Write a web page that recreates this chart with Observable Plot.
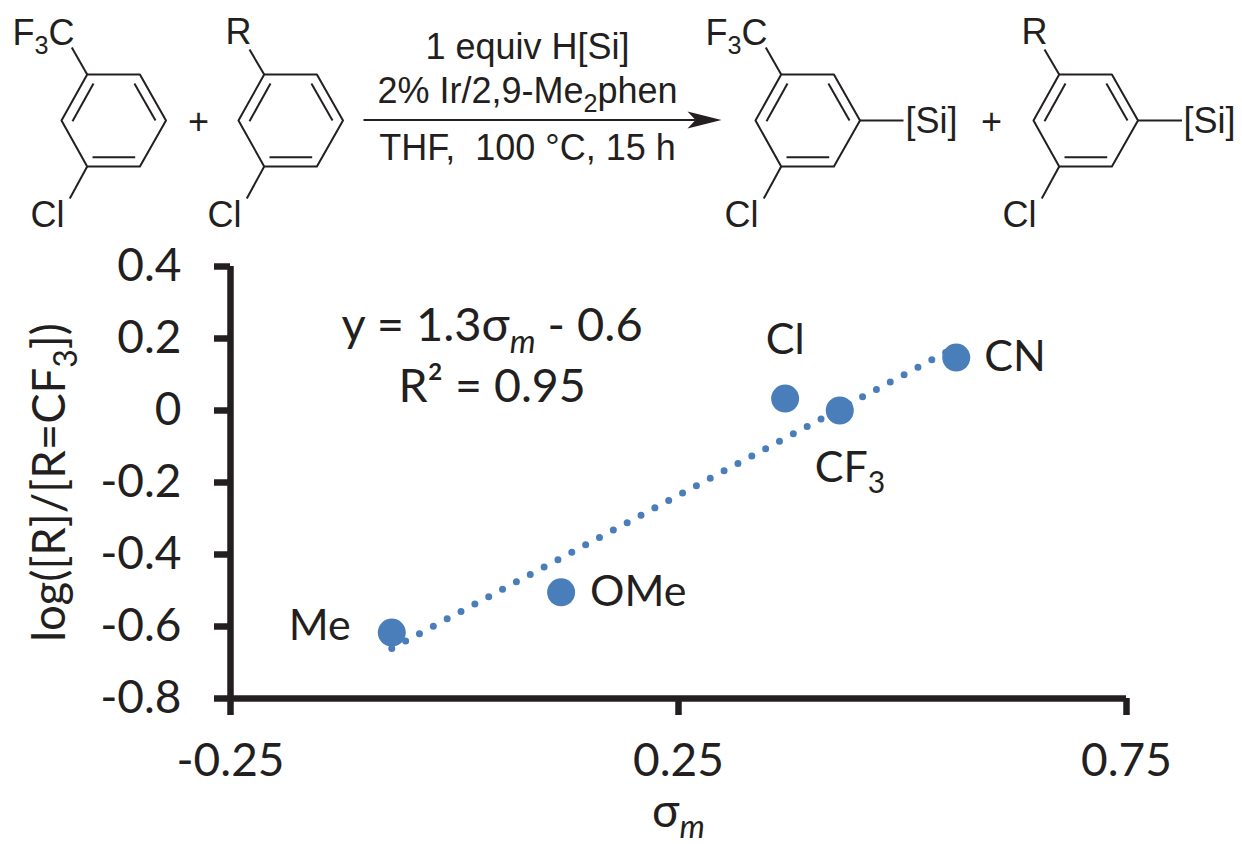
<!DOCTYPE html>
<html><head><meta charset="utf-8">
<script src="https://cdn.jsdelivr.net/npm/d3@7"></script>
<script src="https://cdn.jsdelivr.net/npm/@observablehq/plot@0.6"></script>
<style>html,body{margin:0;padding:0;background:#fff}svg{display:block}</style>
</head><body><div id="chart"></div>
<script>
// chart data
const substituents = ["Me","OMe","Cl","CF_{3}","CN"];
const sigma = [-0.07,0.119,0.369,0.43,0.56];
const logRatio = [-0.617,-0.505,0.033,0,0.147];
const trendSigma = [-0.07,0.5525];
const trendLog = [-0.661,0.167];
const xTicks = [-0.25,0.25,0.75];
const yTicks = [-0.8,-0.6,-0.4,-0.2,0,0.2,0.4];
const labelOffsets = {"Me":[-41,-6,"end"],"OMe":[29,0,"start"],"Cl":[0,-58,"middle"],"CF_{3}":[-25,58,"start"],"CN":[28,0,"start"]};

// reaction scheme data (drawing units of the scheme panel)
const ringX = [86.7,139.4,165.5,139.4,86.7,61,86.7];
const ringY = [74,74,120,166,166,120,74];
const innerBonds = [[93,83,72,120.7],[133.9,83,155,120],[92,156.7,134.7,156.7]];
const ringShifts = [0,177,694,972];
const reagents = ["1 equiv H[Si]","2% Ir/2,9-Me_{2}phen","THF, \u00a0100 °C, 15 h"];
const reagentY = [47,91,148];
const ringLabels = [
  {t:"F_{3}C",x:43,y:33},{t:"Cl",x:47,y:215},{t:"R",x:238,y:32},{t:"Cl",x:224,y:215},
  {t:"+",x:198,y:122},{t:"F_{3}C",x:736,y:33},{t:"Cl",x:741,y:215},{t:"R",x:1034,y:32},
  {t:"Cl",x:1019,y:215},{t:"[Si]",x:931,y:121},{t:"+",x:991,y:122},{t:"[Si]",x:1209,y:121}
];

const rings = ringShifts.flatMap((dx,k)=>ringX.map((x,i)=>({x:x+dx,y:ringY[i],k})));
const bonds = ringShifts.flatMap(dx=>innerBonds.map(b=>({x1:b[0]+dx,y1:b[1],x2:b[2]+dx,y2:b[3]})));
const subs = [
 [86.7,74,71.3,47],[86.7,166,69.3,198],[263.7,74,249,49],[263.7,166,246.3,198],
 [780.7,74,765.3,47],[780.7,166,763.3,198],[1058.7,74,1044,49],[1058.7,166,1041.3,198],
 [859.5,120,903,120],[1137.5,120,1181.5,120]
].map(b=>({x1:b[0],y1:b[1],x2:b[2],y2:b[3]}));
const arrowShaft = [{x1:363,y1:119.5,x2:695,y2:119.5}];
const arrowX = [687,721,687,695,687], arrowY = [111,119.5,128,119.5,111];
const arrowHead = arrowX.map((x,i)=>({x,y:arrowY[i]}));

const scheme = Plot.plot({
  width:1242,height:240,margin:0,
  x:{domain:[0,1242],range:[0,1242],axis:null},
  y:{domain:[0,240],range:[0,240],axis:null},
  marks:[
    Plot.line(rings,{x:"x",y:"y",z:"k",stroke:"#231f20",strokeWidth:2,strokeLinejoin:"round"}),
    Plot.link(bonds,{x1:"x1",y1:"y1",x2:"x2",y2:"y2",stroke:"#231f20",strokeWidth:2}),
    Plot.link(subs,{x1:"x1",y1:"y1",x2:"x2",y2:"y2",stroke:"#231f20",strokeWidth:2}),
    Plot.link(arrowShaft,{x1:"x1",y1:"y1",x2:"x2",y2:"y2",stroke:"#231f20",strokeWidth:2.2}),
    Plot.line(arrowHead,{x:"x",y:"y",fill:"#231f20",stroke:"none"}),
    Plot.text(reagents,{x:()=>527,y:(d,i)=>reagentY[i],text:d=>d,fontSize:36,fontFamily:"Liberation Sans",fill:"#231f20"}),
    Plot.text(ringLabels,{x:"x",y:"y",text:"t",fontSize:36,fontFamily:"Liberation Sans",fill:"#231f20"})
  ]
});

const points = substituents.map((s,i)=>({s,x:sigma[i],y:logRatio[i]}));
const trend = trendSigma.map((x,i)=>({x,y:trendLog[i]}));
const axisColor = "#231f20", blue = "#4a7ebb";
const fmtY = d=>d===0?"0":d.toFixed(1);
const FF = "Lato";

const labelMark = (s)=>{const o=labelOffsets[s];return Plot.text(points.filter(p=>p.s===s),{x:"x",y:"y",text:"s",dx:o[0],dy:o[1],textAnchor:o[2],fontSize:43,fontFamily:FF,fill:axisColor});};

const chart = Plot.plot({
  width:1242,height:604,marginLeft:230,marginRight:116,marginTop:26,marginBottom:146,
  style:{background:"#fff",overflow:"visible"},
  x:{domain:[-0.25,0.75],axis:null},
  y:{domain:[-0.8,0.4],axis:null},
  marks:[
    Plot.line(trend,{x:"x",y:"y",stroke:blue,strokeWidth:7,strokeDasharray:"0 15.7",strokeLinecap:"round"}),
    Plot.dot(points,{x:"x",y:"y",r:14,fill:blue}),
    Plot.ruleX([-0.25],{stroke:axisColor,strokeWidth:6.5}),
    Plot.ruleY([-0.8],{stroke:axisColor,strokeWidth:6.5}),
    Plot.axisX({ticks:xTicks,tickFormat:d=>d.toFixed(2),tickSize:17,tickPadding:28,strokeWidth:6.5,stroke:axisColor,fontSize:46,fontFamily:FF,fill:axisColor,label:null}),
    Plot.axisY({ticks:yTicks,tickFormat:fmtY,tickSize:16,tickPadding:33,strokeWidth:6.5,stroke:axisColor,fontSize:46,fontFamily:FF,fill:axisColor,label:null}),
    ...substituents.map(labelMark),
    Plot.text(["y = 1.3σ_{m} - 0.6"],{x:()=>0.042,y:()=>0.235,fontSize:47,fontFamily:FF,fill:axisColor}),
    Plot.text(["R² = 0.95"],{x:()=>0.042,y:()=>0.066,fontSize:46.5,fontFamily:FF,fill:axisColor}),
    Plot.text(["σ_{m}"],{x:()=>0.25,y:()=>-1.115,fontSize:46,fontFamily:FF,fill:axisColor}),
    Plot.text(["log([R]/[R=CF_{3}])"],{frameAnchor:"left",textAnchor:"middle",dx:-180,dy:0,rotate:-90,fontSize:45.5,fontFamily:FF,fill:axisColor})
  ]
});

// turn _{x} markers into real subscript tspans
function subscripts(svg){
  svg.querySelectorAll("text").forEach(t=>{
    const s=t.textContent; if(!s.includes("_{"))return;
    const parts=s.split(/_\{([^}]*)\}/);
    t.textContent="";
    const NS="http://www.w3.org/2000/svg";
    parts.forEach((p,i)=>{
      if(p==="")return;
      const ts=document.createElementNS(NS,"tspan"); ts.textContent=p;
      if(i%2){ts.setAttribute("font-size","70%");ts.setAttribute("dy","0.36em");if(/[a-z]/.test(p))ts.setAttribute("font-style","italic");}
      else if(i>0){ts.setAttribute("dy","-0.25em");}
      t.appendChild(ts);
    });
  });
}
subscripts(scheme);subscripts(chart);
const host=document.getElementById("chart");
host.appendChild(scheme);host.appendChild(chart);
</script></body></html>
